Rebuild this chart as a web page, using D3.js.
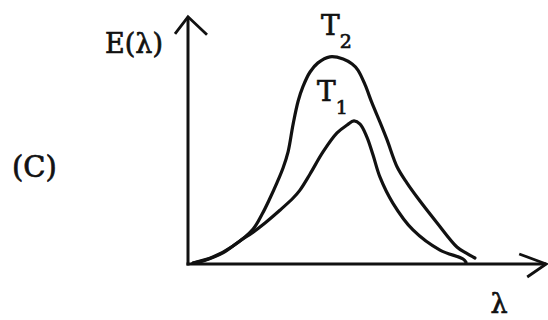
<!DOCTYPE html>
<html>
<head>
<meta charset="utf-8">
<script src="https://cdn.jsdelivr.net/npm/d3@7"></script>
<style>
  body { margin: 0; background: #fff; }
  text { font-family: "DejaVu Serif", serif; fill: #111; stroke: #111; stroke-width: 0.7px; }
</style>
</head>
<body>
<div id="chart"></div>
<script>
// curve T2 (higher temperature) : [lambda, E]
var t2Lambda = [0.14, 0.69, 1.25, 1.81, 2.06, 2.28, 2.47, 2.64, 2.78, 2.92, 3.06, 3.19, 3.39, 3.61, 3.94, 4.31, 4.56, 4.72, 4.92, 5.11, 5.33, 5.53, 5.81, 6.08, 6.36, 6.92, 7.47, 7.72, 7.97];
var t2E      = [0.04, 0.29, 0.75, 1.46, 2.08, 2.75, 3.38, 4.00, 4.67, 5.83, 6.79, 7.38, 8.00, 8.38, 8.63, 8.54, 8.33, 8.08, 7.46, 6.71, 5.92, 5.17, 4.04, 3.38, 2.79, 1.71, 0.71, 0.46, 0.25];

// curve T1 (lower temperature)
var t1Lambda = [0.14, 0.42, 0.97, 1.44, 1.81, 2.14, 2.56, 2.92, 3.11, 3.39, 3.75, 4.14, 4.42, 4.61, 4.78, 4.97, 5.14, 5.33, 5.69, 6.25, 7.00, 7.64, 7.72];
var t1E      = [0.04, 0.13, 0.46, 0.96, 1.33, 1.71, 2.25, 2.75, 3.08, 3.75, 4.67, 5.46, 5.79, 5.96, 5.83, 5.29, 4.54, 3.63, 2.54, 1.42, 0.58, 0.21, 0.08];

var curveNames = ["T", "T"];
var curveSubs = ["2", "1"];

var width = 548, height = 320;

var svg = d3.select("#chart")
  .append("svg")
    .attr("width", width)
    .attr("height", height);

var x = d3.scaleLinear().domain([0, 10]).range([188, 548]);
var y = d3.scaleLinear().domain([0, 10]).range([264, 24]);

var ink = "#111";

// axes with arrow heads
svg.append("line")
  .attr("x1", x(0)).attr("y1", y(0) + 1.5)
  .attr("x2", x(0)).attr("y2", y(10.3))
  .attr("stroke", ink).attr("stroke-width", 3);
svg.append("line")
  .attr("x1", x(0) - 1.5).attr("y1", y(0))
  .attr("x2", x(9.95)).attr("y2", y(0))
  .attr("stroke", ink).attr("stroke-width", 3);

svg.append("path")
  .attr("d", "M" + (x(0) - 13) + "," + (y(10.3) + 17) + "L" + x(0) + "," + y(10.3) + "L" + (x(0) + 19) + "," + (y(10.3) + 18))
  .attr("fill", "none").attr("stroke", ink).attr("stroke-width", 2.8);
svg.append("path")
  .attr("d", "M" + (x(9.95) - 27) + "," + (y(0) - 10) + "L" + x(9.95) + "," + y(0) + "L" + (x(9.95) - 19) + "," + (y(0) + 13))
  .attr("fill", "none").attr("stroke", ink).attr("stroke-width", 2.8);

var line = d3.line()
  .x(function(d) { return x(d[0]); })
  .y(function(d) { return y(d[1]); })
  .curve(d3.curveCatmullRom.alpha(0.5));

var t2 = d3.zip(t2Lambda, t2E);
var t1 = d3.zip(t1Lambda, t1E);

svg.selectAll("path.curve")
  .data([t2, t1])
  .enter()
  .append("path")
    .attr("class", "curve")
    .attr("d", line)
    .attr("fill", "none")
    .attr("stroke", ink)
    .attr("stroke-width", 3.2)
    .attr("stroke-linecap", "round");

// curve labels
var labelPos = [[321, 35], [317, 101]];
var labels = svg.selectAll("g.lab")
  .data(curveNames)
  .enter()
  .append("text")
    .attr("x", function(d, i) { return labelPos[i][0]; })
    .attr("y", function(d, i) { return labelPos[i][1]; })
    .attr("font-size", 28);
labels.append("tspan").text(function(d) { return d; });
labels.append("tspan")
  .attr("font-size", 19)
  .attr("dy", 13)
  .attr("dx", 0)
  .text(function(d, i) { return curveSubs[i]; });

svg.append("text")
  .attr("x", 163).attr("y", 53)
  .attr("text-anchor", "end")
  .attr("font-size", 27)
  .text("E(λ)");

svg.append("text")
  .attr("x", 12).attr("y", 177)
  .attr("font-size", 29)
  .text("(C)");

svg.append("text")
  .attr("x", 499).attr("y", 313)
  .attr("text-anchor", "middle")
  .attr("font-size", 27)
  .text("λ");
</script>
</body>
</html>
